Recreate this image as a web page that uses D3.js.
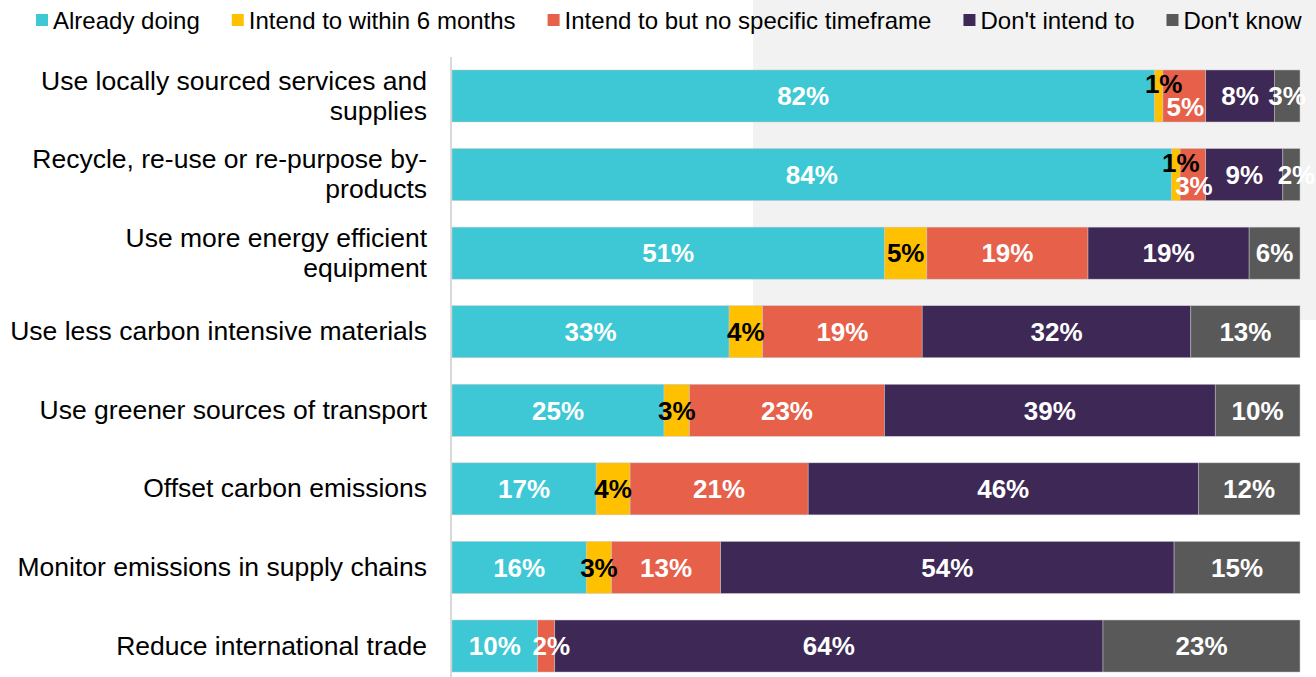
<!DOCTYPE html>
<html>
<head>
<meta charset="utf-8">
<script src="https://cdn.jsdelivr.net/npm/d3@7"></script>
<style>
  html, body { margin: 0; padding: 0; background: #fff; }
  svg { display: block; font-family: "Liberation Sans", Arial, sans-serif; }
</style>
</head>
<body>
<div id="chart"></div>
<script>
// Data (percentages per statement)
const categories = [
  "Use locally sourced services and\nsupplies",
  "Recycle, re-use or re-purpose by-\nproducts",
  "Use more energy efficient\nequipment",
  "Use less carbon intensive materials",
  "Use greener sources of transport",
  "Offset carbon emissions",
  "Monitor emissions in supply chains",
  "Reduce international trade"
];
const seriesNames = ["Already doing", "Intend to within 6 months", "Intend to but no specific timeframe", "Don't intend to", "Don't know"];
const alreadyDoing   = [82, 84, 51, 33, 25, 17, 16, 10];
const within6Months  = [1, 1, 5, 4, 3, 4, 3, 0];
const noTimeframe    = [5, 3, 19, 19, 23, 21, 13, 2];
const dontIntend     = [8, 9, 19, 32, 39, 46, 54, 64];
const dontKnow       = [3, 2, 6, 13, 10, 12, 15, 23];

const colors = ["#3ec8d5", "#ffc000", "#e6604a", "#3d2856", "#595959"];
const labelColors = ["#fff", "#000", "#fff", "#fff", "#fff"];

const width = 1316, height = 677;
const plotLeft = 452, plotRight = 1300;

const svg = d3.select('#chart')
  .append('svg')
  .attr('width', width)
  .attr('height', height);

// light grey panel behind the top right
svg.append('rect')
  .attr('x', 753).attr('y', 0)
  .attr('width', width - 753).attr('height', 320)
  .attr('fill', '#f2f2f2');

// build rows: each row normalised to its own total (bars all run to 100%)
const valueArrays = [alreadyDoing, within6Months, noTimeframe, dontIntend, dontKnow];
const rows = categories.map((c, i) => {
  const vals = valueArrays.map(a => a[i]);
  const total = d3.sum(vals);
  let acc = 0;
  const segs = vals.map((v, k) => {
    const s = { key: k, value: v, x0: acc / total * 100, x1: (acc + v) / total * 100 };
    acc += v;
    return s;
  });
  return { category: c, segs };
});

const x = d3.scaleLinear()
  .domain([0, 100])
  .range([plotLeft, plotRight]);

const y = d3.scaleBand()
  .domain(categories)
  .range([56.7, 685.3])
  .paddingInner(0.338)
  .paddingOuter(0.169);

// axis line
svg.append('line')
  .attr('x1', plotLeft - 1).attr('x2', plotLeft - 1)
  .attr('y1', 57).attr('y2', height)
  .attr('stroke', '#d9d9d9')
  .attr('stroke-width', 2);

const row = svg.selectAll('g.row')
  .data(rows)
  .enter()
  .append('g')
  .attr('class', 'row')
  .attr('transform', d => `translate(0,${y(d.category)})`);

row.selectAll('rect')
  .data(d => d.segs.filter(s => s.value > 0))
  .enter()
  .append('rect')
  .attr('x', s => x(s.x0))
  .attr('y', 0)
  .attr('width', s => x(s.x1) - x(s.x0))
  .attr('height', y.bandwidth())
  .attr('fill', s => colors[s.key])
  .attr('stroke', '#c8c8c8')
  .attr('stroke-width', 0.5);

// value labels; a tiny segment gets its label lifted and the next one dropped
row.each(function (d) {
  const g = d3.select(this);
  const shown = d.segs.filter(s => s.value > 0);
  shown.forEach((s, j) => {
    let dy = 0, dx = 0;
    const prev = shown[j - 1];
    if (s.value < 2 && shown[j + 1] && shown[j + 1].value <= 5) { dy = -12; dx = 5; }
    else if (prev && prev.value < 2 && s.value <= 5) { dy = 11; dx = 1; }
    else if (s.value <= 2 && prev && prev.value > 5) { dx = 5; }
    g.append('text')
      .attr('x', (x(s.x0) + x(s.x1)) / 2 + dx)
      .attr('y', y.bandwidth() / 2 + dy)
      .attr('dy', '0.36em')
      .attr('text-anchor', 'middle')
      .attr('fill', labelColors[s.key])
      .style('font-size', '26px')
      .style('font-weight', 'bold')
      .text(s.value + '%');
  });
});

// category labels
row.append('text')
  .attr('x', 427)
  .attr('y', y.bandwidth() / 2)
  .attr('text-anchor', 'end')
  .attr('fill', '#000')
  .style('font-size', '26.5px')
  .each(function (d) {
    const lines = d.category.split('\n');
    const lh = 30;
    lines.forEach((t, i) => {
      d3.select(this).append('tspan')
        .attr('x', 427)
        .attr('y', y.bandwidth() / 2 - 1 + (i - (lines.length - 1) / 2) * lh)
        .attr('dy', '0.36em')
        .text(t);
    });
  });

// legend
const legend = svg.append('g').attr('transform', 'translate(36,0)');
let lx = 0;
seriesNames.forEach((name, i) => {
  legend.append('rect')
    .attr('x', lx).attr('y', 14)
    .attr('width', 12).attr('height', 12)
    .attr('fill', colors[i]);
  const t = legend.append('text')
    .attr('x', lx + 17)
    .attr('y', 20)
    .attr('dy', '0.36em')
    .style('font-size', '24px')
    .attr('fill', '#000')
    .text(name);
  lx += 17 + t.node().getComputedTextLength() + 32;
});
</script>
</body>
</html>
